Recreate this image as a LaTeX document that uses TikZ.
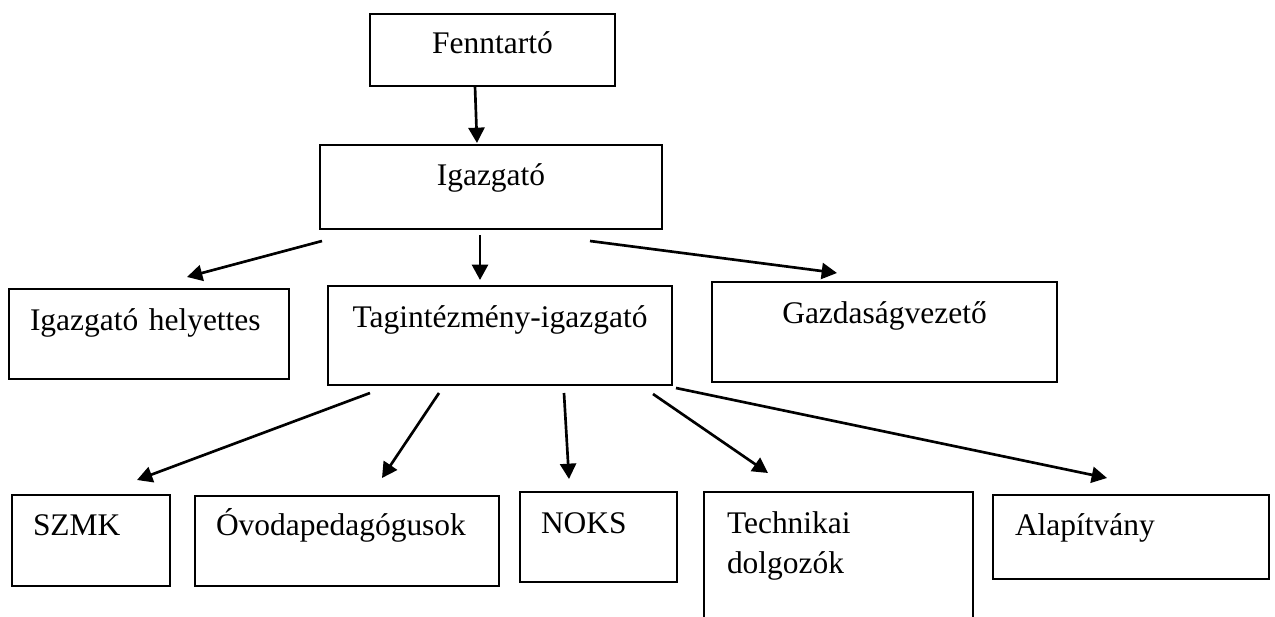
\documentclass[tikz,border=0pt]{standalone}
\usepackage{fontspec}
\setmainfont{Liberation Serif}
\usetikzlibrary{arrows.meta}
\begin{document}
\begin{tikzpicture}[x=0.75pt,y=-0.75pt,
  box/.style={line width=1.4pt, anchor=north west, inner ysep=0pt, outer sep=0pt,
              font=\fontsize{23.6}{30}\selectfont},
  cbox/.style={box, draw, inner xsep=0pt, align=center},
  lbox/.style={box, draw, inner xsep=15.75pt, align=left},
  openbox/.style={box, inner xsep=17.25pt, align=left},
  boxline/.style={line width=1.4pt},
  arr/.style={line width=2pt, -{Triangle[length=11.5pt,width=12pt]}}]
\useasboundingbox[fill=white] (0,0) rectangle (1275,617);

% top levels
\node[cbox, text width=183.75pt, text height=30pt, text depth=24pt] (F) at (370,14) {Fenntartó};
\node[cbox, text width=256.5pt, text height=30pt, text depth=33pt] (I) at (320,145) {Igazgató};

% second level
\node[lbox, text width=178.5pt, text height=30.75pt, text depth=36.75pt] (H) at (9,289) {Igazgató helyettes};
\node[cbox, text width=258pt, text height=30.75pt, text depth=43.5pt] (T) at (328,286) {Tagintézmény-igazgató};
\node[cbox, text width=258.75pt, text height=30.75pt, text depth=44.25pt] (G) at (712,282) {Gazdaságvezető};

% third level
\node[lbox, text width=87pt, text height=30pt, text depth=38.25pt] (S) at (12,495) {SZMK};
\node[lbox, text width=196.5pt, text height=29.25pt, text depth=38.25pt] (O) at (195,496) {Óvodapedagógusok};
\node[lbox, text width=86.25pt, text height=30.75pt, text depth=36.75pt] (N) at (520,492) {NOKS};
\node[openbox, text width=167.25pt, text height=30.75pt, text depth=63pt] (K) at (704,492) {Technikai\\dolgozók};
\draw[boxline] (K.south west) -- (K.north west) -- (K.north east) -- (K.south east);
\node[lbox, inner xsep=16.5pt, text width=174pt, text height=30pt, text depth=33pt] (A) at (993,495) {Alapítvány};

% connectors
\draw[arr] ([shift={(-17.5,0)}]F.south) -- ([shift={(-14,-2)}]I.north);
\draw[arr] ([shift={(2,12)}]I.south west) -- ([shift={(38,-12)}]H.north);
\draw[arr] ([shift={(-11,6)}]I.south) -- ([shift={(-20,-6)}]T.north);
\draw[arr] ([shift={(99,12)}]I.south) -- ([shift={(-47.5,-9)}]G.north);

\draw[arr] ([shift={(42,8)}]T.south west) -- ([shift={(46,-15)}]S.north);
\draw[arr] ([shift={(111,8)}]T.south west) -- ([shift={(35,-18)}]O.north);
\draw[arr] ([shift={(64,8)}]T.south) -- ([shift={(-29.5,-13)}]N.north);
\draw[arr] ([shift={(-19,9)}]T.south east) -- ([shift={(-70.5,-19)}]K.north);
\draw[arr] ([shift={(4,3)}]T.south east) -- ([shift={(-24,-17)}]A.north);
\end{tikzpicture}
\end{document}
